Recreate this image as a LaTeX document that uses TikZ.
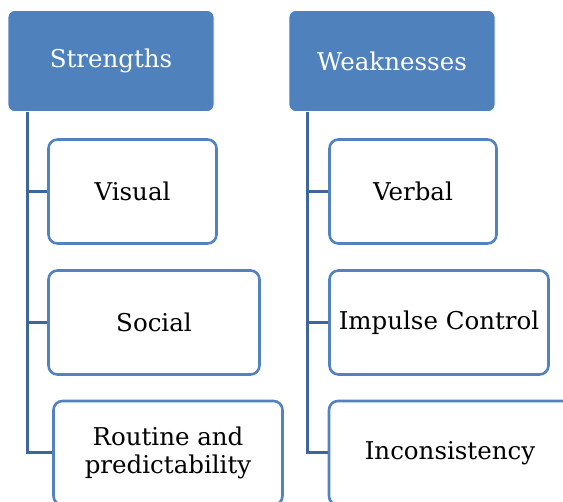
\documentclass[tikz,border=0pt]{standalone}
\usepackage{fontspec}
\setmainfont{DejaVu Serif}
\definecolor{hdr}{HTML}{4F81BD}
\definecolor{bord}{HTML}{5283BE}
\definecolor{conn}{HTML}{3D6699}
\tikzset{
  header/.style={draw=white, line width=0.6pt, fill=hdr, rounded corners=7pt, text=white,
    minimum width=206pt, minimum height=101pt, font=\fontsize{24.5}{28}\selectfont, inner sep=0pt},
  item/.style={draw=bord, line width=2.6pt, fill=white, rounded corners=9pt, text=black,
    minimum height=104pt, font=\fontsize{24.5}{28}\selectfont, inner sep=0pt, align=center},
  branch/.style={draw=conn, line width=3pt}
}
\begin{document}
\begin{tikzpicture}[x=1pt,y=1pt]
\clip (0,0) rectangle (563,-502);
\fill[white] (0,0) rectangle (563,-502);
% headers
\node[header] (S) at (111,-61) {Strengths};
\node[header] (W) at (392,-61) {Weaknesses};
% strengths items
\node[item, minimum width=168pt] (V) at (132.5,-191.5) {Visual};
\node[item, minimum width=211pt] (So) at (154,-322.5) {Social};
\node[item, minimum width=229pt] (R) at (168,-453) {Routine and\\predictability};
% weaknesses items
\node[item, minimum width=167pt] (Ve) at (413,-191.5) {Verbal};
\node[item, minimum width=219pt] (I) at (439,-322.5) {Impulse Control};
\node[item, minimum width=242pt] (In) at (450,-453) {Inconsistency};
% connectors
\coordinate (sa) at ([xshift=20pt]S.south west);
\coordinate (wa) at ([xshift=19pt]W.south west);
\draw[branch] (sa) |- (V.west);
\draw[branch] (sa) |- (So.west);
\draw[branch] (sa) |- (R.west);
\draw[branch] (wa) |- (Ve.west);
\draw[branch] (wa) |- (I.west);
\draw[branch] (wa) |- (In.west);
\end{tikzpicture}
\end{document}
